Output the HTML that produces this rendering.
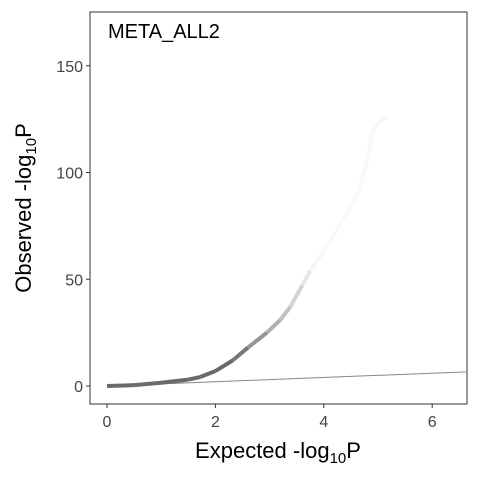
<!DOCTYPE html>
<html><head><meta charset="utf-8"><style>
body{margin:0;background:#fff}
svg{display:block;font-family:"Liberation Sans",sans-serif}
</style></head><body>
<svg id="c" width="480" height="480">
<rect x="90" y="12" width="377" height="392" fill="none" stroke="#333" stroke-width="1"/>
<text x="108" y="38" font-size="20" fill="#000">META_ALL2</text>
<g id="xt"></g>
<g id="yt"></g>
<g id="pts"></g>
<text x="278" y="458" font-size="22" text-anchor="middle">Expected -log<tspan font-size="15" dy="5">10</tspan><tspan dy="-5">P</tspan></text>
<text transform="translate(31,208) rotate(-90)" font-size="22" text-anchor="middle">Observed -log<tspan font-size="15" dy="5">10</tspan><tspan dy="-5">P</tspan></text>
</svg>
<script>
const xTicks=[0,2,4,6];
const yTicks=[0,50,100,150];
const expected=[0,0.5,1,1.5,1.72,2,2.32,2.6,2.95,3.2,3.38,3.6,3.75,4.0,4.24,4.45,4.61,4.8,4.91,5.05,5.16];
const observed=[0,0.4,1.5,3,4.2,7,12,18,25,31,37,47,54,63,73,82,89,105,120,124,126];
const NS="http://www.w3.org/2000/svg";
const X=v=>107+v*54.2, Y=v=>386-v*2.135;
function mk(t,a,p){const e=document.createElementNS(NS,t);for(const k in a)e.setAttribute(k,a[k]);p.appendChild(e);return e;}
const xt=document.getElementById('xt'),yt=document.getElementById('yt'),pts=document.getElementById('pts');
xTicks.forEach(v=>{
 const l=mk('line',{x1:X(v),x2:X(v),y1:404,y2:408,stroke:'#333'},xt);
 
 
 const t=mk('text',{x:X(v),y:427,'font-size':16,'text-anchor':'middle',fill:'#444'},xt);t.textContent=v;
 
 
});
yTicks.forEach(v=>{
 const l=mk('line',{x1:86,x2:90,y1:Y(v),y2:Y(v),stroke:'#333'},yt);
 
 
 const t=mk('text',{x:83,y:Y(v)+6,'font-size':16,'text-anchor':'end',fill:'#444'},yt);t.textContent=v;
 
 
});
const ref=mk('line',{x1:X(0),y1:Y(0),x2:467,y2:Y((467-107)/54.2),stroke:'#888','stroke-width':1},pts);


for(let i=0;i<expected.length-1;i++){
 const e=(expected[i]+expected[i+1])/2;
 const op=e<2.3?1:Math.max(0.04,1-(e-2.3)*0.6);
 const s=mk('line',{x1:X(expected[i]),y1:Y(observed[i]),x2:X(expected[i+1]),y2:Y(observed[i+1]),stroke:'#6a6a6a','stroke-width':4,'stroke-linecap':'butt','stroke-opacity':op},pts);
 
 
}
</script>
</body></html>
